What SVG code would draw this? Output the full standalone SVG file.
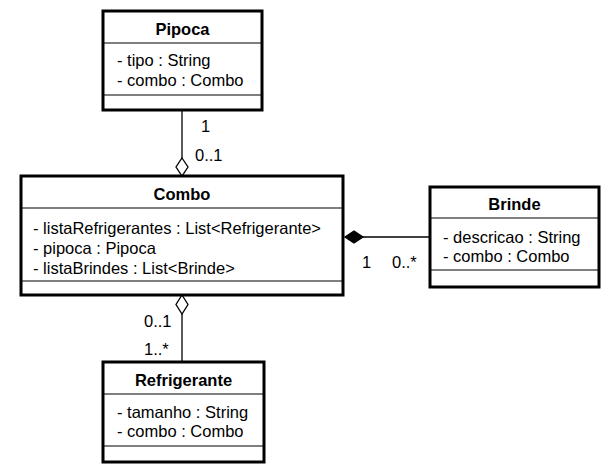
<svg xmlns="http://www.w3.org/2000/svg" width="608" height="472" viewBox="0 0 608 472">
<style>
.box{fill:#fff;stroke:#000;stroke-width:3}
.sep{stroke:#000;stroke-width:1.2}
.t{font-family:"Liberation Sans",Arial,sans-serif;font-size:16.5px;fill:#000}
.h{font-family:"Liberation Sans",Arial,sans-serif;font-size:16.5px;font-weight:bold;fill:#000;text-anchor:middle}
.ln{stroke:#000;stroke-width:1.3;fill:none}
</style>
<rect width="608" height="472" fill="#fff"/>
<g id="connectors">
<line class="ln" x1="182" y1="110" x2="182" y2="158"/>
<polygon points="182,158 188,167 182,176 176,167" fill="#fff" stroke="#000" stroke-width="1.3"/>
<text class="t" x="201" y="132">1</text>
<text class="t" x="195" y="161">0..1</text>
<line class="ln" x1="363" y1="237" x2="430" y2="237"/>
<polygon points="345,237 354,231 363,237 354,243" fill="#000" stroke="#000" stroke-width="1.3"/>
<text class="t" x="362" y="268">1</text>
<text class="t" x="392" y="268">0..*</text>
<line class="ln" x1="182" y1="314" x2="182" y2="362"/>
<polygon points="182,295 188,304.5 182,314 176,304.5" fill="#fff" stroke="#000" stroke-width="1.3"/>
<text class="t" x="144" y="327">0..1</text>
<text class="t" x="144" y="355">1..*</text>
</g>
<g id="Pipoca">
<rect class="box" x="103" y="11" width="159" height="99"/>
<line class="sep" x1="103" y1="43" x2="262" y2="43"/>
<line class="sep" x1="103" y1="95" x2="262" y2="95"/>
<text class="h" x="182.5" y="35">Pipoca</text>
<text class="t" x="117" y="66">- tipo : String</text>
<text class="t" x="117" y="86">- combo : Combo</text>
</g>
<g id="Combo">
<rect class="box" x="21" y="176" width="322" height="119"/>
<line class="sep" x1="21" y1="208" x2="343" y2="208"/>
<line class="sep" x1="21" y1="281" x2="343" y2="281"/>
<text class="h" x="182" y="200">Combo</text>
<text class="t" x="33" y="234">- listaRefrigerantes : List&lt;Refrigerante&gt;</text>
<text class="t" x="33" y="254">- pipoca : Pipoca</text>
<text class="t" x="33" y="274">- listaBrindes : List&lt;Brinde&gt;</text>
</g>
<g id="Brinde">
<rect class="box" x="430" y="187" width="169" height="100"/>
<line class="sep" x1="430" y1="218" x2="599" y2="218"/>
<line class="sep" x1="430" y1="270" x2="599" y2="270"/>
<text class="h" x="514.5" y="210">Brinde</text>
<text class="t" x="443" y="243">- descricao : String</text>
<text class="t" x="443" y="262">- combo : Combo</text>
</g>
<g id="Refrigerante">
<rect class="box" x="103" y="362" width="161" height="100"/>
<line class="sep" x1="103" y1="394" x2="264" y2="394"/>
<line class="sep" x1="103" y1="446" x2="264" y2="446"/>
<text class="h" x="183.5" y="386">Refrigerante</text>
<text class="t" x="117" y="418">- tamanho : String</text>
<text class="t" x="117" y="437">- combo : Combo</text>
</g>
</svg>
